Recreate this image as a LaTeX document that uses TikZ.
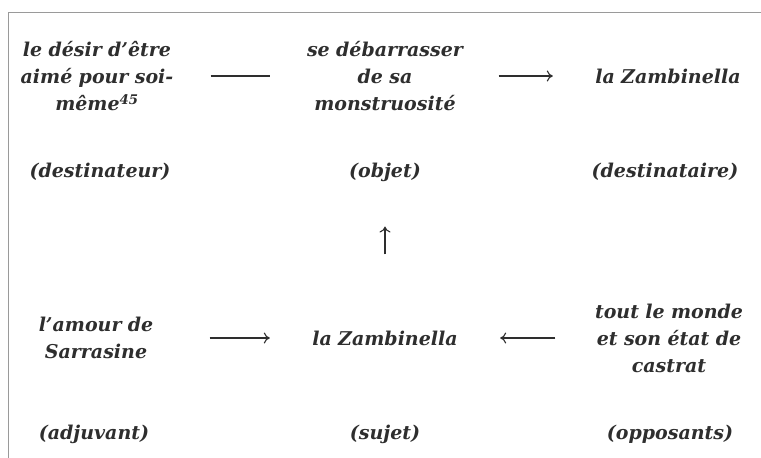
\documentclass[tikz,border=0pt]{standalone}
\usepackage{fontspec}
\setmainfont{DejaVu Serif}
\usetikzlibrary{arrows.meta}
\definecolor{ink}{HTML}{2E2E2E}
\definecolor{rule}{HTML}{9A9A9A}

\begin{document}
\begin{tikzpicture}[x=1pt,y=-1pt,
    actant/.style={align=center,text width=180pt,inner sep=0pt,text=ink,
      font=\fontsize{19}{27}\selectfont\bfseries\itshape},
    link/.style={draw=ink,line width=1.1pt,shorten <=23.5pt,shorten >=25pt},
    arrow/.style={link,-{To[length=6pt,width=11pt]}}]
  %%%%% START %%%%%
  \useasboundingbox (0,0) rectangle (761,458);
  \draw[rule,line width=1pt] (761,12) -- (8,12) -- (8,458);

  % top row
  \node[actant] (dst) at (97,76) {le désir d'être\\aimé pour soi-\\même\textsuperscript{45}};
  \node[actant] (obj) at (385,76) {se débarrasser\\de sa\\monstruosité};
  \node[actant] (dsr) at (668,76) {la Zambinella};

  \node[actant] (dstlab) at (100,172) {(destinateur)};
  \node[actant] (objlab) at (385,172) {(objet)};
  \node[actant] (dsrlab) at (665,172) {(destinataire)};

  % bottom row
  \node[actant] (adj) at (96,338) {l'amour de\\Sarrasine};
  \node[actant] (sub) at (385,338) {la Zambinella};
  \node[actant] (opp) at (669,338) {tout le monde\\et son état de\\castrat};

  \node[actant] (adjlab) at (94,434) {(adjuvant)};
  \node[actant] (sublab) at (385,434) {(sujet)};
  \node[actant] (opplab) at (670,434) {(opposants)};

  \draw[link] (dst) -- (obj);
  \draw[arrow] (obj) -- (dsr);
  \draw[arrow] (adj) -- (sub);
  \draw[arrow] (opp) -- (sub);
  \draw[arrow,shorten <=76pt,shorten >=45pt] (sub) -- (objlab);
  %%%%% END %%%%%
\end{tikzpicture}
\end{document}
